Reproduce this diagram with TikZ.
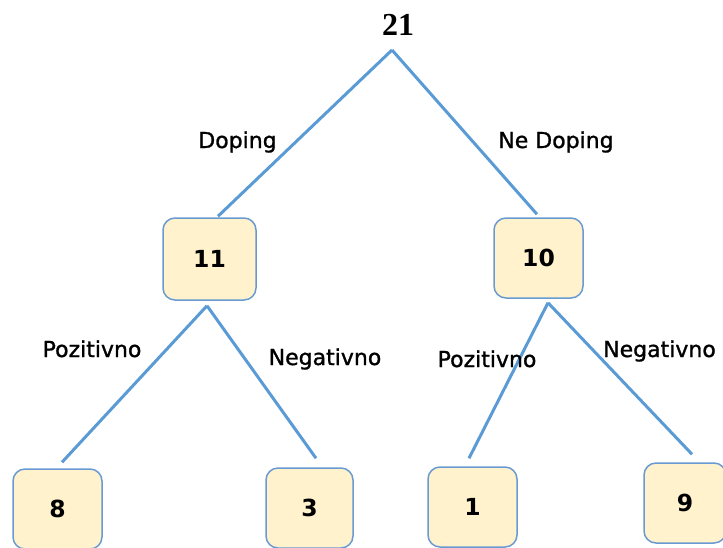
\documentclass[tikz,border=0pt]{standalone}
\usepackage{fontspec}
\setmainfont{DejaVu Sans}
\newfontfamily\lblfont{DejaVu Sans}[FakeBold=1.2]
\newfontfamily\serifbold{Liberation Serif}
\definecolor{edgeblue}{HTML}{5B9BD5}
\definecolor{boxborder}{HTML}{6A9AD2}
\definecolor{boxfill}{HTML}{FFF2CC}
\begin{document}
\begin{tikzpicture}[x=1pt,y=-1pt,
  edge/.style={draw=edgeblue,line width=3pt},
  numbox/.style={draw=boxborder,fill=boxfill,line width=1.5pt,rounded corners=12pt,
    minimum width=88pt,minimum height=80pt,inner sep=0pt,
    font=\fontsize{23.5}{27}\selectfont\bfseries},
  lbl/.style={font=\fontsize{22}{26}\selectfont\lblfont,inner sep=0pt,anchor=base}]
\useasboundingbox (0,0) rectangle (723,547);
% root
\node[font=\fontsize{32}{36}\selectfont\serifbold\bfseries,anchor=base,inner sep=0pt] (root) at (398,35) {21};
% boxes
\node[numbox,minimum width=93pt,minimum height=82pt] (n11) at (209.5,259) {11};
\node[numbox,minimum width=89pt] (n10) at (538.5,258) {10};
\node[numbox,minimum width=89pt] (n8) at (57.5,509) {8};
\node[numbox,minimum width=87pt] (n3) at (309.5,508) {3};
\node[numbox,minimum width=89pt] (n1) at (472.5,507) {1};
\node[numbox,minimum width=82pt] (n9) at (685,503) {9};
% edges
\draw[edge] ([xshift=-6pt,yshift=-15pt]root.base) -- ([xshift=8.5pt,yshift=1pt]n11.north);
\draw[edge] ([xshift=-6pt,yshift=-15pt]root.base) -- ([xshift=-1.5pt,yshift=3pt]n10.north);
\draw[edge] ([xshift=-2.5pt,yshift=-5pt]n11.south) -- ([xshift=4.5pt,yshift=6pt]n8.north);
\draw[edge] ([xshift=-2.5pt,yshift=-5pt]n11.south) -- ([xshift=6.5pt,yshift=9pt]n3.north);
\draw[edge] ([xshift=9.5pt,yshift=-4pt]n10.south) -- ([xshift=-3.5pt,yshift=8pt]n1.north);
\draw[edge] ([xshift=9.5pt,yshift=-4pt]n10.south) -- ([xshift=7pt,yshift=8pt]n9.north);
% labels
\node[lbl] (lDop) at (237.5,148) {Doping};
\node[lbl] (lNeDop) at (556,148) {Ne Doping};
\node[lbl] (lPozL) at (92,357) {Pozitivno};
\node[lbl] (lNegL) at (325,365) {Negativno};
\node[lbl] (lPozR) at (487,367) {Pozitivno};
\node[lbl] (lNegR) at (659.5,357) {Negativno};
\end{tikzpicture}
\end{document}
